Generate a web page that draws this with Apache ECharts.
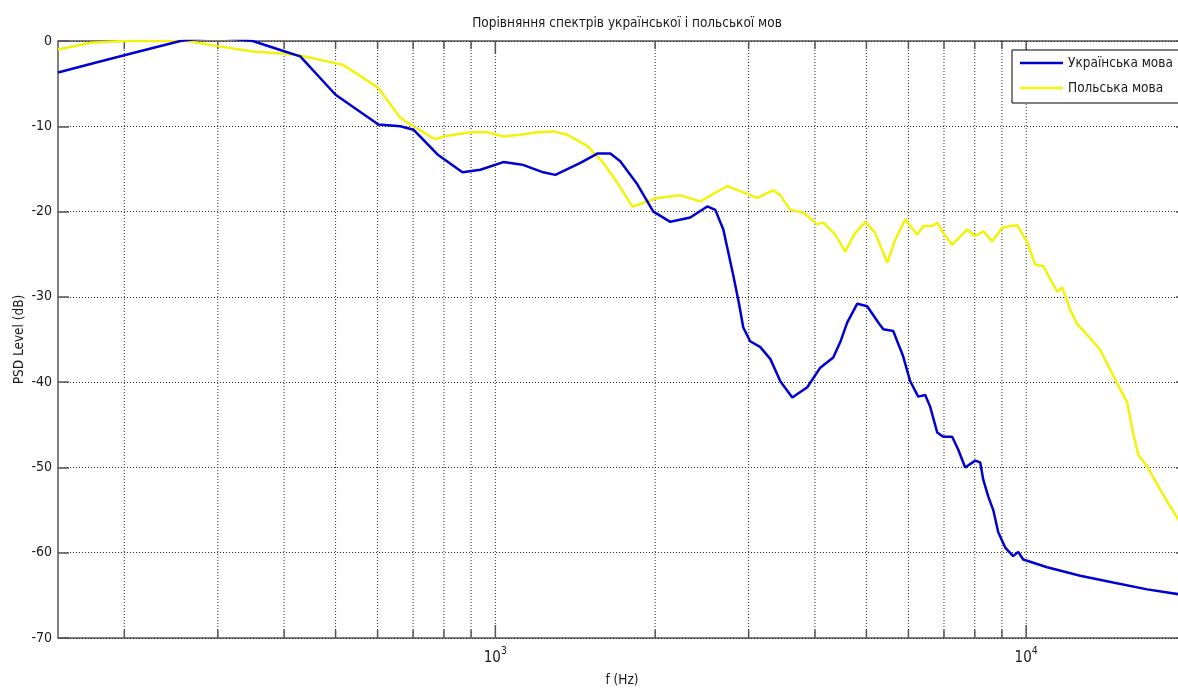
<!DOCTYPE html>
<html>
<head>
<meta charset="utf-8">
<script src="https://cdn.jsdelivr.net/npm/echarts@6/dist/echarts.min.js"></script>
<style>
html,body{margin:0;padding:0;background:#fff;}
#chart{width:1178px;height:691px;}
</style>
</head>
<body>
<div id="chart"></div>
<script>
// ---- data ----
const titleText = 'Порівняння спектрів української і польської мов';
const seriesNames = ['Українська мова', 'Польська мова'];

const freqUA = [150,180,214,255,297,349,400,429,500,602,662,701,778,867,937,1035,1124,1231,1297,1446,1556,1647,1719,1851,1984,2136,2329,2507,2596,2688,2807,2875,2931,3020,3156,3297,3442,3625,3869,4093,4330,4464,4602,4806,5018,5264,5380,5617,5866,6046,6260,6453,6594,6798,6977,7254,7445,7675,8015,8191,8298,8480,8669,8858,9130,9452,9659,9871,10953,12638,14581,16900,20000];
const dbUA = [-3.7,-2.4,-1.2,0,0.5,0,-1.2,-1.8,-6.3,-9.8,-10.0,-10.4,-13.3,-15.4,-15.1,-14.2,-14.5,-15.4,-15.7,-14.3,-13.2,-13.2,-14.1,-16.8,-20.0,-21.2,-20.7,-19.4,-19.8,-22.1,-27.5,-30.7,-33.6,-35.2,-35.9,-37.3,-39.9,-41.8,-40.6,-38.3,-37.1,-35.3,-33.0,-30.8,-31.1,-33.0,-33.8,-34.0,-37.0,-39.9,-41.7,-41.5,-42.9,-45.9,-46.4,-46.4,-47.9,-50.0,-49.2,-49.4,-51.4,-53.4,-55.0,-57.6,-59.4,-60.4,-59.9,-60.8,-61.7,-62.7,-63.5,-64.3,-65.0];

const freqPL = [150,173,200,263,300,346,400,429,517,602,662,701,754,771,812,897,966,1035,1114,1200,1286,1366,1490,1597,1697,1811,1900,2019,2230,2433,2735,2893,3114,3338,3442,3594,3802,4041,4148,4368,4561,4764,4976,5195,5472,5667,5918,6233,6398,6652,6798,6977,7254,7511,7743,8015,8298,8630,9013,9330,9618,10044,10399,10765,11096,11438,11689,12101,12474,12915,13784,14710,15497,15906,16254,16900,17881,19335,20000];
const dbPL = [-1.0,-0.2,0,0,-0.6,-1.2,-1.5,-1.7,-2.8,-5.5,-9.0,-10.0,-11.2,-11.5,-11.1,-10.7,-10.7,-11.2,-11.0,-10.7,-10.6,-11.0,-12.3,-14.3,-16.6,-19.4,-19.0,-18.4,-18.1,-18.8,-17.0,-17.6,-18.4,-17.5,-18.1,-19.8,-20.1,-21.5,-21.3,-22.7,-24.7,-22.5,-21.2,-22.5,-26.0,-23.3,-20.9,-22.7,-21.7,-21.7,-21.3,-22.5,-23.9,-22.9,-22.1,-22.9,-22.3,-23.5,-21.9,-21.7,-21.6,-23.6,-26.2,-26.4,-27.9,-29.4,-28.9,-31.5,-33.2,-34.2,-36.2,-39.7,-42.4,-46.0,-48.5,-49.9,-52.6,-56.1,-57.0];

const xMajorTicks = [1000, 10000];
const xMinorTicks = [200,300,400,500,600,700,800,900,2000,3000,4000,5000,6000,7000,8000,9000];
const xRange = [150, 20000];
const yRange = [-70, 0];
const yStep = 10;

// ---- chart ----
const FONT = '"DejaVu Sans Condensed", "Liberation Sans", sans-serif';
const TXT = '#1a1a1a';
const GRIDC = '#2a2a2a';
const AXC = '#555555';
// thin horizontal line icon for the legend (bbox padded by move-to points)
const LINE_ICON = 'path://M0,0 M43,14 M0,5.8 L43,5.8 L43,8.2 L0,8.2 Z';

const zip = (xs, ys) => xs.map((x, i) => [x, ys[i]]);
const gridData = xMajorTicks.concat(xMinorTicks).map(v => [v, (yRange[0] + yRange[1]) / 2]);

const chart = echarts.init(document.getElementById('chart'), null, {renderer: 'canvas'});
chart.setOption({
  animation: false,
  backgroundColor: '#ffffff',
  title: {
    text: titleText,
    left: 622, top: 11, textAlign: 'center',
    textStyle: {fontFamily: FONT, fontSize: 13.5, fontWeight: 'normal', color: TXT}
  },
  legend: {
    data: seriesNames.map(n => ({name: n, icon: LINE_ICON})),
    orient: 'vertical',
    left: 1012, top: 50,
    padding: [6, 8, 8, 8],
    itemWidth: 43, itemHeight: 14, itemGap: 11,
    borderColor: '#000', borderWidth: 1, backgroundColor: '#fff',
    textStyle: {fontFamily: FONT, fontSize: 13.5, color: TXT}
  },
  grid: {
    left: 58, top: 41, width: 1128, height: 597,
    outerBoundsMode: 'none', containLabel: false,
    show: true, borderColor: AXC, borderWidth: 1.5, backgroundColor: 'transparent'
  },
  xAxis: {
    type: 'log', logBase: 10, min: xRange[0], max: xRange[1],
    name: 'f (Hz)', nameLocation: 'middle', nameGap: 35, nameMoveOverlap: false,
    nameTextStyle: {fontFamily: FONT, fontSize: 13.5, color: TXT},
    axisLine: {show: false},
    axisTick: {show: false},
    splitLine: {show: false},
    axisLabel: {
      margin: 8,
      formatter: function (v) {
        const e = Math.round(Math.log10(v));
        if (Math.abs(Math.pow(10, e) - v) > 1e-6 || xMajorTicks.indexOf(v) < 0) return '';
        return '{b|10}{s|' + e + '}';
      },
      rich: {
        b: {fontFamily: FONT, fontSize: 15, color: TXT, verticalAlign: 'bottom', lineHeight: 20},
        s: {fontFamily: FONT, fontSize: 10.5, color: TXT, verticalAlign: 'top', lineHeight: 20}
      }
    }
  },
  yAxis: [{
    type: 'value', min: yRange[0], max: yRange[1], interval: yStep,
    name: 'PSD Level (dB)', nameLocation: 'middle', nameGap: 32, nameMoveOverlap: false,
    nameTextStyle: {fontFamily: FONT, fontSize: 13.5, color: TXT},
    axisLine: {show: false},
    axisTick: {show: true, inside: true, length: 11, lineStyle: {color: AXC, width: 1.5}},
    axisLabel: {fontFamily: FONT, fontSize: 14, color: TXT, margin: 6},
    splitLine: {show: true, lineStyle: {color: GRIDC, type: [1, 2], width: 1}}
  }, {
    type: 'value', min: yRange[0], max: yRange[1], interval: yStep, position: 'right',
    axisLine: {show: false},
    axisTick: {show: true, inside: true, length: 10, lineStyle: {color: AXC, width: 1.5}},
    axisLabel: {show: false},
    splitLine: {show: false}
  }],
  series: [{
    type: 'custom',
    name: 'xgrid',
    xAxisIndex: 0, yAxisIndex: 0,
    silent: true,
    z: 1,
    data: gridData,
    renderItem: function (params, api) {
      const v = api.value(0);
      const top = api.coord([v, yRange[1]]);
      const bot = api.coord([v, yRange[0]]);
      const major = xMajorTicks.indexOf(v) >= 0;
      const len = major ? 13 : 8;
      return {
        type: 'group',
        children: [
          {type: 'line', shape: {x1: top[0], y1: top[1], x2: bot[0], y2: bot[1]},
           style: {stroke: GRIDC, lineWidth: 1, lineDash: [1, 2]}},
          {type: 'line', shape: {x1: bot[0], y1: bot[1], x2: bot[0], y2: bot[1] - len},
           style: {stroke: AXC, lineWidth: 1.5}},
          {type: 'line', shape: {x1: top[0], y1: top[1], x2: top[0], y2: top[1] + len},
           style: {stroke: AXC, lineWidth: 1.5}}
        ]
      };
    }
  }, {
    type: 'line', name: seriesNames[0],
    data: zip(freqUA, dbUA),
    symbol: 'none', smooth: false, clip: true, z: 3,
    lineStyle: {color: '#0000d0', width: 2.5},
    itemStyle: {color: '#0000d0'}
  }, {
    type: 'line', name: seriesNames[1],
    data: zip(freqPL, dbPL),
    symbol: 'none', smooth: false, clip: true, z: 2,
    lineStyle: {color: '#f2f20a', width: 2.5},
    itemStyle: {color: '#f2f20a'}
  }]
});
</script>
</body>
</html>
